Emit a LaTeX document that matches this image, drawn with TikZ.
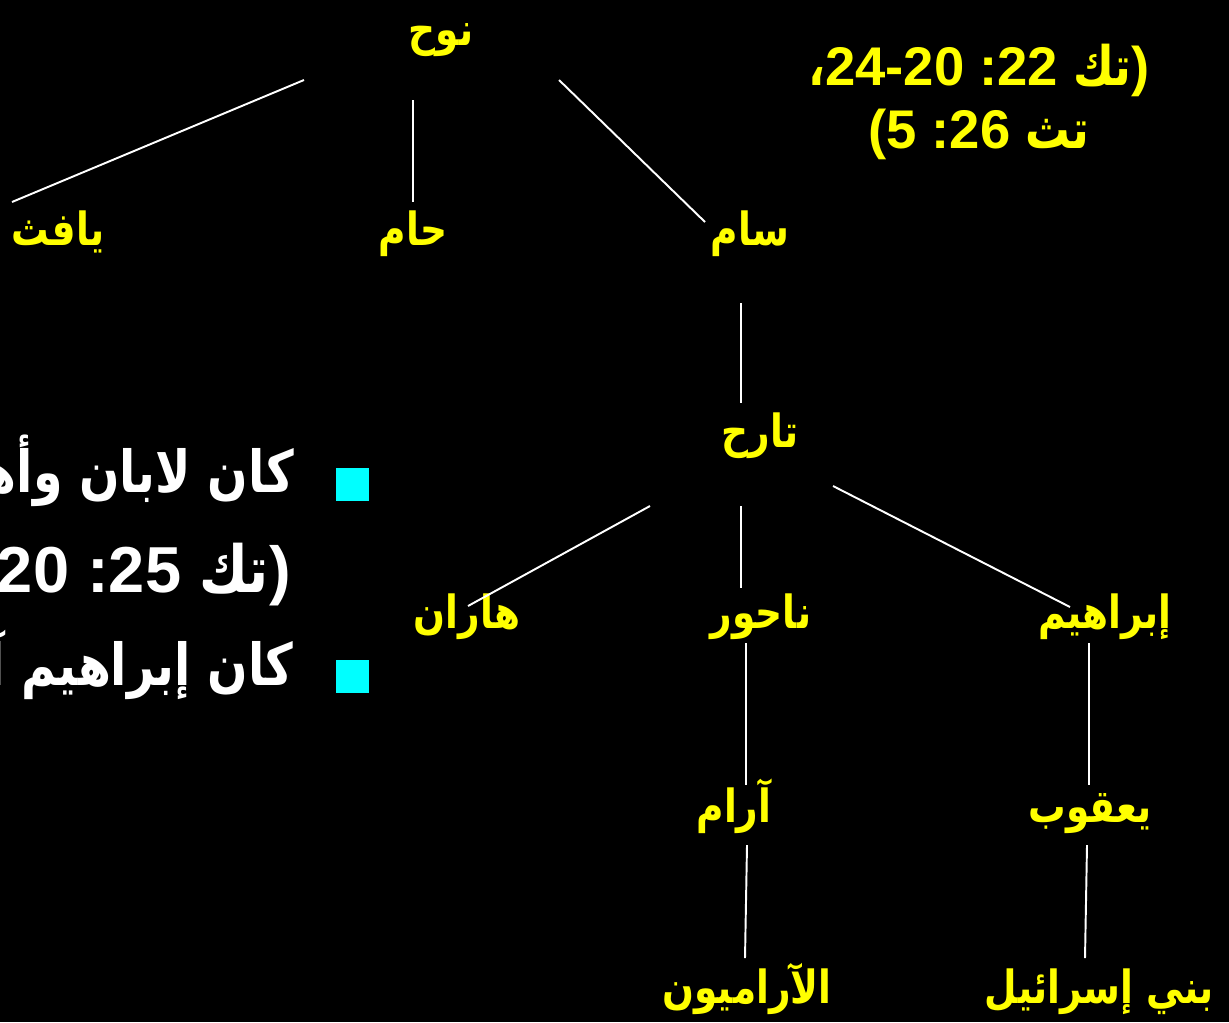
\documentclass[tikz,border=0pt]{standalone}
\usepackage{fontspec}
\setmainfont{Liberation Sans}
\newfontfamily\arabicfont[Script=Arabic, FakeStretch=0.82]{DejaVu Sans}
\TeXXeTstate=1
\usetikzlibrary{positioning}
\definecolor{SlideYellow}{RGB}{255,255,0}
\definecolor{SlideCyan}{RGB}{0,255,255}
\newcommand{\arb}[1]{{\arabicfont\beginR #1\endR}}

\begin{document}
\begin{tikzpicture}[x=0.02cm, y=-0.02cm]
    \tikzset{ person/.style ={text=SlideYellow, font=\fontsize{26}{30}\selectfont\bfseries, anchor=base, inner sep=0pt} }
    \tikzset{ refs/.style   ={text=SlideYellow, font=\fontsize{31}{36}\selectfont\bfseries, anchor=base, inner sep=0pt} }
    \tikzset{ btext/.style  ={text=white, font=\fontsize{37}{42}\selectfont\bfseries, anchor=base east, inner sep=0pt} }
    \tikzset{ btextar/.style={btext, font=\fontsize{33}{38}\selectfont\bfseries} }
    \tikzset{ sqbullet/.style={fill=SlideCyan, minimum size=0.66cm, inner sep=0pt} }
    \tikzset{ link/.style   ={draw=white, line width=1.1pt} }

    \fill[black] (0,0) rectangle (1229,1022);
    \useasboundingbox (0,0) rectangle (1229,1022);
    \clip (0,0) rectangle (1229,1022);

    % family tree
    \node[person] (nuh)     at (441,45)   {\arb{نوح}};
    \node[person] (yafeth)  at (58,245)   {\arb{يافث}};
    \node[person] (ham)     at (413,245)  {\arb{حام}};
    \node[person] (sam)     at (750,245)  {\arb{سام}};
    \node[person] (terah)   at (760,447)  {\arb{تارح}};
    \node[person] (haran)   at (467,628)  {\arb{هاران}};
    \node[person] (nahor)   at (761,628)  {\arb{ناحور}};
    \node[person] (ibrahim) at (1105,628) {\arb{إبراهيم}};
    \node[person] (aram)    at (734,822)  {\arb{آرام}};
    \node[person] (yaqub)   at (1090,822) {\arb{يعقوب}};
    \node[person] (aramean) at (747,1003) {\arb{الآراميون}};
    \node[person] (israel)  at (1099,1003){\arb{بني إسرائيل}};

    % references
    \node[refs] (ref1) at (979,85)  {\arb{،}24-20 :22 \arb{تك})};
    \node[refs] (ref2) at (979,148) {(5 :26 \arb{تث}};

    % bullets
    \node[sqbullet] (b1) at (352.5,484.5) {};
    \node[sqbullet] (b2) at (352.5,676.5) {};
    \node[btextar] (b1a) at (294,492) {\arb{كان لابان وأهل}};
    \node[btext]   (b1b) at (291,592) {(20 :25 \arb{تك})};
    \node[btextar] (b2a) at (294,685) {\arb{كان إبراهيم آ}};

    \draw[link] ([shift={(-137,35)}]nuh.base)  -- ([shift={(-46,-43)}]yafeth.base);
    \draw[link] ([shift={(-28,55)}]nuh.base)   -- ([shift={(0,-43)}]ham.base);
    \draw[link] ([shift={(118,35)}]nuh.base)   -- ([shift={(-45,-23)}]sam.base);
    \draw[link] ([shift={(-9,58)}]sam.base)    -- ([shift={(-19,-44)}]terah.base);
    \draw[link] ([shift={(-110,59)}]terah.base)-- ([shift={(1,-22)}]haran.base);
    \draw[link] ([shift={(-19,59)}]terah.base) -- ([shift={(-20,-40)}]nahor.base);
    \draw[link] ([shift={(73,39)}]terah.base)  -- ([shift={(-35,-21)}]ibrahim.base);
    \draw[link] ([shift={(-15,15)}]nahor.base) -- ([shift={(12,-37)}]aram.base);
    \draw[link] ([shift={(-16,15)}]ibrahim.base)-- ([shift={(-1,-37)}]yaqub.base);
    \draw[link] ([shift={(13,23)}]aram.base)   -- ([shift={(-2,-45)}]aramean.base);
    \draw[link] ([shift={(-3,23)}]yaqub.base)  -- ([shift={(-14,-45)}]israel.base);
\end{tikzpicture}
\end{document}
